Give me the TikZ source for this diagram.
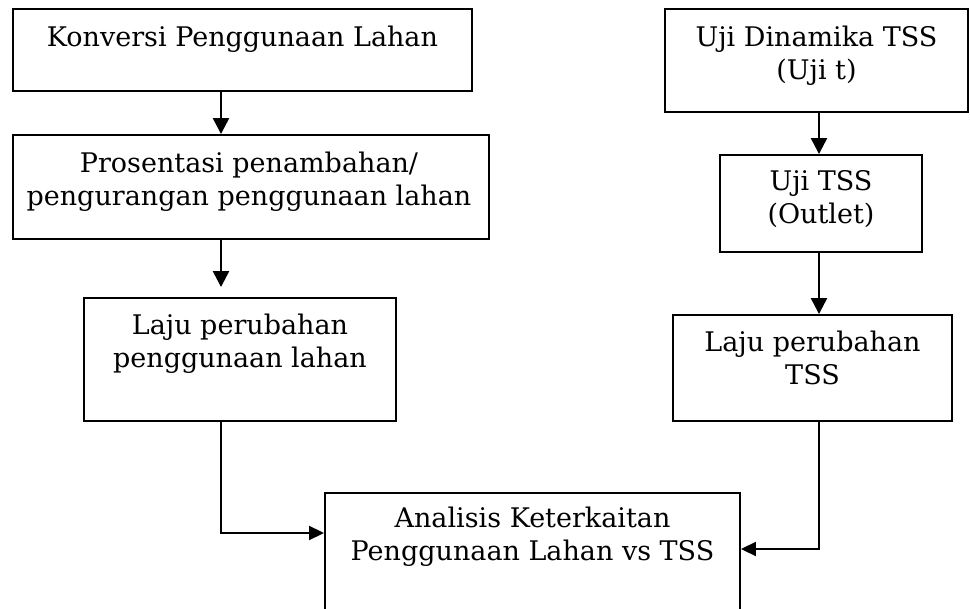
\documentclass[tikz,border=0pt]{standalone}
\usepackage{fontspec}
\setmainfont{DejaVu Serif}
\usetikzlibrary{arrows.meta}
\begin{document}
\begin{tikzpicture}[x=1pt,y=-1pt,
  box/.style={draw,line width=1.9pt,rectangle,inner sep=0pt},
  txt/.style={anchor=north,inner sep=0pt,align=center,font=\fontsize{27}{33}\selectfont},
  arr/.style={line width=2.4pt,-{Triangle[length=16pt,width=16pt]}},
  elb/.style={line width=1.9pt,-{Triangle[length=15pt,width=14pt]}}]
\useasboundingbox (0,0) rectangle (970,609);
\fill[white] (0,0) rectangle (970,609);
\clip (0,0) rectangle (970,609);
% boxes
\node[box,minimum width=459pt,minimum height=82pt] (b1) at (242.5,50) {};
\node[box,minimum width=476pt,minimum height=104pt] (b2) at (251,187) {};
\node[box,minimum width=312pt,minimum height=123pt] (b3) at (240,359.5) {};
\node[box,minimum width=279pt,minimum height=106pt] (b4) at (812.5,368) {};
\node[box,minimum width=415pt,minimum height=147pt] (b5) at (532.5,566.5) {};
\node[box,minimum width=303pt,minimum height=103pt] (u1) at (816.5,60.5) {};
\node[box,minimum width=202pt,minimum height=97pt] (u2) at (821,203.5) {};
% texts
\node[txt] (t1) at ([yshift=-18pt]b1.north) {Konversi Penggunaan Lahan};
\node[txt] (t2) at ([yshift=-18pt,xshift=-2pt]b2.north) {Prosentasi penambahan/\\pengurangan penggunaan lahan};
\node[txt] (t3) at ([yshift=-17pt]b3.north) {Laju perubahan\\penggunaan lahan};
\node[txt] (t4) at ([yshift=-17pt]b4.north) {Laju perubahan\\TSS};
\node[txt] (t5) at ([yshift=-15pt]b5.north) {Analisis Keterkaitan\\Penggunaan Lahan vs TSS};
\node[txt] (t6) at ([yshift=-18pt]u1.north) {Uji Dinamika TSS\\(Uji t)};
\node[txt] (t7) at ([yshift=-16pt]u2.north) {Uji TSS\\(Outlet)};
% connectors
\coordinate (xl) at (221,0);
\coordinate (xr) at (819,0);
\coordinate (ya) at (0,533);
\coordinate (yb) at (0,549);
\draw[arr] (b1.south -| xl) -- (b2.north -| xl);
\draw[arr,shorten >=10pt] (b2.south -| xl) -- (b3.north -| xl);
\draw[arr] (u1.south -| xr) -- (u2.north -| xr);
\draw[arr] (u2.south -| xr) -- (b4.north -| xr);
\draw[elb] (b3.south -| xl) |- (b5.west |- ya);
\draw[elb] (b4.south -| xr) |- (b5.east |- yb);
\end{tikzpicture}
\end{document}
